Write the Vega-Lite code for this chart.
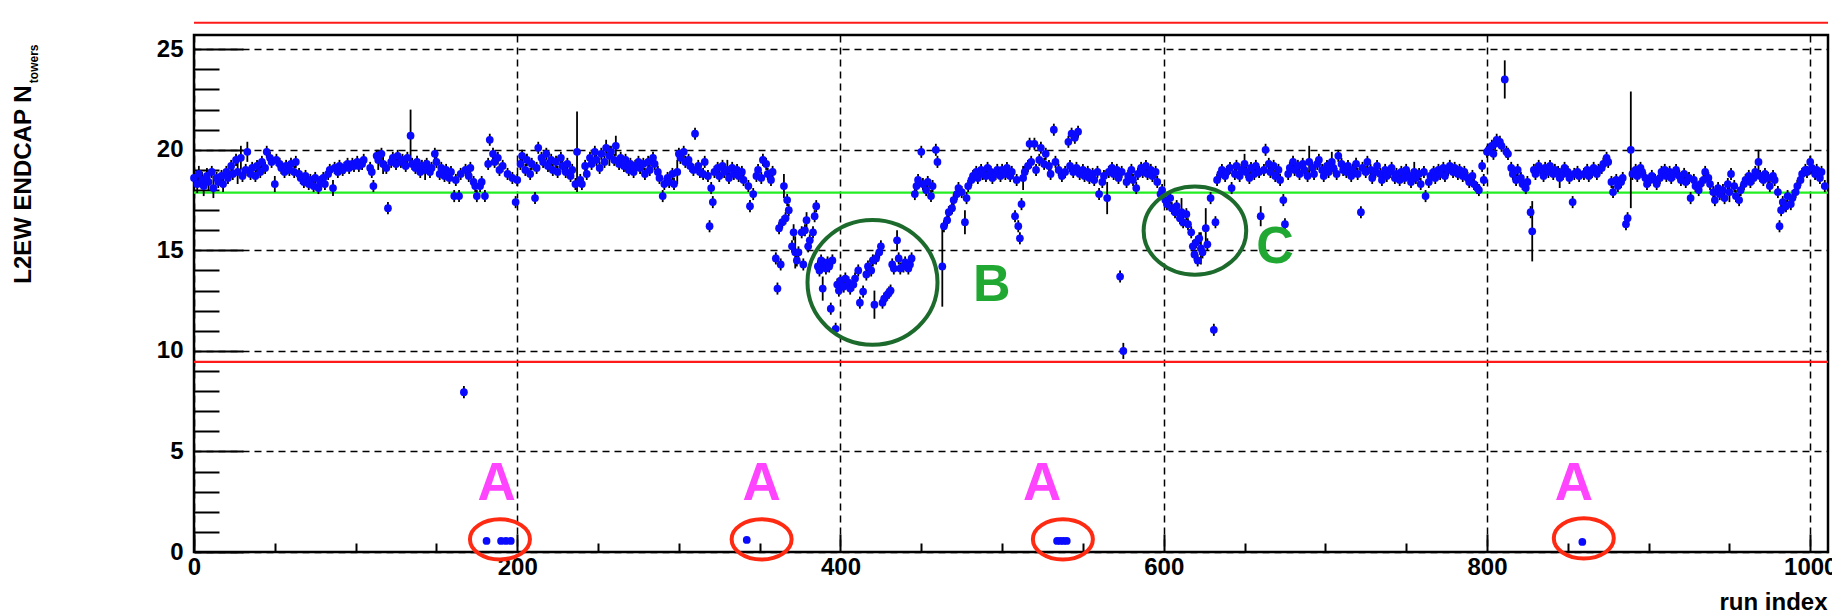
{
  "$schema": "https://vega.github.io/schema/vega-lite/v6.json",
  "width": 1634,
  "height": 517,
  "autosize": {"type": "none"},
  "padding": {"left": 194, "top": 35, "right": 4, "bottom": 61},
  "background": "white",
  "config": {
    "view": {"stroke": "black", "strokeWidth": 2.5},
    "axis": {"labelFont": "Liberation Sans", "labelFontWeight": "bold", "titleFont": "Liberation Sans", "titleFontWeight": "bold", "domain": false, "labelColor": "black", "titleColor": "black", "tickColor": "black", "gridColor": "black"},
    "text": {"font": "Liberation Sans"}
  },
  "datasets": {
    "runs": [
      {"r":0,"v":18.6,"e":0.45},{"r":2,"v":18.3,"e":0.45},{"r":3,"v":18.8,"e":0.4},{"r":5,"v":18.5,"e":0.4},{"r":6,"v":18.2,"e":0.5},{"r":8,"v":18.7,"e":0.4},{"r":9,"v":18.4,"e":0.4},{"r":11,"v":18.9,"e":0.3},{"r":12,"v":18.1,"e":0.5},{"r":14,"v":18.6,"e":0.3},{"r":15,"v":18.4,"e":0.3},{"r":17,"v":18.7,"e":0.3},{"r":18,"v":18.3,"e":0.4},{"r":20,"v":18.9,"e":0.3},{"r":21,"v":18.6,"e":0.3},{"r":23,"v":19.2,"e":0.3},{"r":24,"v":18.8,"e":0.3},{"r":26,"v":19.5,"e":0.3},{"r":27,"v":18.9,"e":0.6},{"r":29,"v":19.6,"e":0.6},{"r":30,"v":18.7,"e":0.3},{"r":32,"v":19.0,"e":0.3},{"r":33,"v":19.9,"e":0.5},{"r":35,"v":18.8,"e":0.3},{"r":36,"v":19.1,"e":0.3},{"r":38,"v":18.7,"e":0.3},{"r":39,"v":19.2,"e":0.3},{"r":41,"v":18.9,"e":0.3},{"r":42,"v":19.4,"e":0.3},{"r":44,"v":19.1,"e":0.3},{"r":45,"v":19.9,"e":0.3},{"r":47,"v":19.6,"e":0.3},{"r":48,"v":19.4,"e":0.3},{"r":50,"v":18.3,"e":0.4},{"r":51,"v":19.5,"e":0.3},{"r":53,"v":19.3,"e":0.3},{"r":54,"v":19.1,"e":0.3},{"r":56,"v":18.9,"e":0.3},{"r":57,"v":19.2,"e":0.3},{"r":59,"v":19.0,"e":0.3},{"r":60,"v":19.3,"e":0.3},{"r":62,"v":18.9,"e":0.3},{"r":63,"v":19.4,"e":0.3},{"r":65,"v":18.8,"e":0.3},{"r":66,"v":18.6,"e":0.3},{"r":68,"v":18.4,"e":0.3},{"r":69,"v":18.7,"e":0.3},{"r":71,"v":18.3,"e":0.3},{"r":72,"v":18.5,"e":0.3},{"r":74,"v":18.2,"e":0.3},{"r":75,"v":18.6,"e":0.3},{"r":77,"v":18.1,"e":0.3},{"r":78,"v":18.4,"e":0.3},{"r":80,"v":18.6,"e":0.3},{"r":81,"v":18.3,"e":0.3},{"r":83,"v":18.8,"e":0.3},{"r":84,"v":19.0,"e":0.3},{"r":86,"v":18.1,"e":0.4},{"r":87,"v":19.1,"e":0.3},{"r":89,"v":18.9,"e":0.3},{"r":90,"v":19.2,"e":0.3},{"r":92,"v":19.0,"e":0.3},{"r":93,"v":19.1,"e":0.3},{"r":95,"v":19.3,"e":0.3},{"r":96,"v":19.1,"e":0.3},{"r":98,"v":19.3,"e":0.3},{"r":99,"v":19.2,"e":0.3},{"r":101,"v":19.4,"e":0.3},{"r":102,"v":19.2,"e":0.3},{"r":104,"v":19.3,"e":0.3},{"r":105,"v":19.5,"e":0.3},{"r":109,"v":19.1,"e":0.3},{"r":110,"v":18.9,"e":0.3},{"r":111,"v":18.2,"e":0.3},{"r":113,"v":19.7,"e":0.3},{"r":114,"v":19.5,"e":0.5},{"r":116,"v":19.8,"e":0.3},{"r":117,"v":19.3,"e":0.5},{"r":119,"v":19.1,"e":0.3},{"r":120,"v":17.1,"e":0.3},{"r":122,"v":19.4,"e":0.3},{"r":123,"v":19.6,"e":0.3},{"r":125,"v":19.3,"e":0.3},{"r":126,"v":19.7,"e":0.3},{"r":128,"v":19.4,"e":0.3},{"r":129,"v":19.5,"e":0.3},{"r":131,"v":19.2,"e":0.3},{"r":132,"v":19.6,"e":0.3},{"r":134,"v":20.7,"e":1.3},{"r":135,"v":19.3,"e":0.3},{"r":137,"v":19.1,"e":0.3},{"r":138,"v":19.4,"e":0.3},{"r":140,"v":18.9,"e":0.3},{"r":141,"v":19.2,"e":0.3},{"r":143,"v":19.0,"e":0.5},{"r":144,"v":19.3,"e":0.3},{"r":146,"v":18.9,"e":0.3},{"r":147,"v":19.1,"e":0.3},{"r":149,"v":19.8,"e":0.3},{"r":150,"v":19.4,"e":0.3},{"r":152,"v":18.8,"e":0.3},{"r":153,"v":19.1,"e":0.3},{"r":155,"v":18.7,"e":0.3},{"r":156,"v":19.0,"e":0.3},{"r":158,"v":18.6,"e":0.3},{"r":159,"v":18.9,"e":0.3},{"r":161,"v":17.7,"e":0.3},{"r":162,"v":18.5,"e":0.3},{"r":164,"v":17.7,"e":0.3},{"r":165,"v":18.8,"e":0.3},{"r":167,"v":7.95,"e":0.3},{"r":168,"v":19.0,"e":0.3},{"r":170,"v":18.7,"e":0.3},{"r":171,"v":19.1,"e":0.3},{"r":173,"v":18.4,"e":0.3},{"r":174,"v":18.2,"e":0.3},{"r":175,"v":17.7,"e":0.3},{"r":177,"v":18.2,"e":0.3},{"r":178,"v":18.4,"e":0.3},{"r":180,"v":17.7,"e":0.3},{"r":181,"v":0.55,"e":0.1},{"r":182,"v":19.3,"e":0.3},{"r":183,"v":20.5,"e":0.3},{"r":185,"v":19.8,"e":0.3},{"r":186,"v":19.4,"e":0.3},{"r":188,"v":19.6,"e":0.3},{"r":189,"v":19.0,"e":0.3},{"r":190,"v":0.55,"e":0.1},{"r":191,"v":19.2,"e":0.3},{"r":193,"v":0.55,"e":0.1},{"r":194,"v":18.8,"e":0.3},{"r":196,"v":0.55,"e":0.1},{"r":197,"v":18.6,"e":0.3},{"r":199,"v":17.4,"e":0.3},{"r":200,"v":18.5,"e":0.3},{"r":202,"v":19.3,"e":0.3},{"r":203,"v":19.7,"e":0.3},{"r":205,"v":19.0,"e":0.3},{"r":206,"v":19.5,"e":0.3},{"r":208,"v":18.8,"e":0.3},{"r":209,"v":19.3,"e":0.3},{"r":211,"v":17.6,"e":0.3},{"r":212,"v":19.1,"e":0.3},{"r":213,"v":20.1,"e":0.3},{"r":215,"v":19.6,"e":0.3},{"r":216,"v":19.4,"e":0.3},{"r":218,"v":19.8,"e":0.3},{"r":219,"v":19.2,"e":0.3},{"r":221,"v":19.5,"e":0.3},{"r":222,"v":19.0,"e":0.3},{"r":224,"v":19.4,"e":0.3},{"r":225,"v":18.9,"e":0.3},{"r":227,"v":19.6,"e":0.3},{"r":228,"v":19.2,"e":0.3},{"r":230,"v":18.9,"e":0.3},{"r":231,"v":19.3,"e":0.3},{"r":233,"v":18.7,"e":0.3},{"r":234,"v":19.0,"e":0.3},{"r":236,"v":18.3,"e":0.3},{"r":237,"v":19.9,"e":2.0},{"r":239,"v":18.5,"e":0.3},{"r":240,"v":18.3,"e":0.3},{"r":242,"v":19.2,"e":0.3},{"r":243,"v":18.8,"e":0.3},{"r":245,"v":19.6,"e":0.3},{"r":246,"v":19.3,"e":0.3},{"r":248,"v":19.9,"e":0.3},{"r":249,"v":19.5,"e":0.3},{"r":251,"v":19.1,"e":0.3},
      {"r":252,"v":19.8,"e":0.3},{"r":254,"v":19.4,"e":0.3},{"r":255,"v":20.1,"e":0.4},{"r":257,"v":19.7,"e":0.5},{"r":258,"v":19.9,"e":0.3},{"r":260,"v":19.5,"e":0.3},{"r":261,"v":20.2,"e":0.5},{"r":263,"v":19.3,"e":0.3},{"r":264,"v":19.6,"e":0.3},{"r":266,"v":19.2,"e":0.3},{"r":267,"v":19.5,"e":0.3},{"r":269,"v":19.0,"e":0.3},{"r":270,"v":19.3,"e":0.3},{"r":272,"v":18.9,"e":0.3},{"r":273,"v":19.2,"e":0.3},{"r":275,"v":19.4,"e":0.3},{"r":276,"v":19.1,"e":0.3},{"r":278,"v":19.3,"e":0.3},{"r":279,"v":18.8,"e":0.3},{"r":281,"v":19.4,"e":0.3},{"r":282,"v":19.0,"e":0.3},{"r":284,"v":19.6,"e":0.3},{"r":285,"v":19.3,"e":0.3},{"r":287,"v":18.9,"e":0.3},{"r":288,"v":18.6,"e":0.3},{"r":290,"v":17.7,"e":0.3},{"r":291,"v":18.3,"e":0.3},{"r":293,"v":18.6,"e":0.3},{"r":294,"v":18.4,"e":0.3},{"r":296,"v":18.8,"e":0.3},{"r":297,"v":18.3,"e":0.3},{"r":299,"v":18.9,"e":0.6},{"r":300,"v":19.8,"e":0.3},{"r":301,"v":19.6,"e":0.3},{"r":303,"v":19.9,"e":0.3},{"r":304,"v":19.4,"e":0.3},{"r":306,"v":19.5,"e":0.3},{"r":307,"v":19.2,"e":0.3},{"r":309,"v":19.0,"e":0.3},{"r":310,"v":20.8,"e":0.3},{"r":312,"v":19.2,"e":0.3},{"r":313,"v":18.9,"e":0.3},{"r":315,"v":18.8,"e":0.3},{"r":316,"v":19.4,"e":0.3},{"r":318,"v":18.7,"e":0.3},{"r":319,"v":16.2,"e":0.3},{"r":320,"v":18.1,"e":0.3},{"r":321,"v":17.4,"e":0.3},{"r":322,"v":18.9,"e":0.3},{"r":324,"v":19.1,"e":0.3},{"r":325,"v":18.7,"e":0.3},{"r":327,"v":19.2,"e":0.3},{"r":328,"v":18.9,"e":0.3},{"r":330,"v":19.0,"e":0.5},{"r":331,"v":18.6,"e":0.3},{"r":333,"v":19.1,"e":0.3},{"r":334,"v":18.8,"e":0.3},{"r":336,"v":19.0,"e":0.3},{"r":337,"v":18.7,"e":0.3},{"r":339,"v":18.9,"e":0.3},{"r":340,"v":18.5,"e":0.3},{"r":342,"v":0.6,"e":0.1},{"r":343,"v":18.2,"e":0.3},{"r":344,"v":17.2,"e":0.3},{"r":346,"v":17.8,"e":0.3},{"r":348,"v":18.7,"e":0.3},{"r":349,"v":19.0,"e":0.3},{"r":351,"v":18.6,"e":0.3},{"r":352,"v":19.5,"e":0.3},{"r":354,"v":19.3,"e":0.3},{"r":355,"v":18.8,"e":0.3},{"r":357,"v":18.5,"e":0.3},{"r":358,"v":18.9,"e":0.3},{"r":360,"v":14.6,"e":0.3},{"r":361,"v":13.1,"e":0.3},{"r":362,"v":16.1,"e":0.3},{"r":363,"v":14.3,"e":0.3},{"r":364,"v":16.4,"e":0.3},{"r":365,"v":18.2,"e":0.6},{"r":366,"v":16.6,"e":0.3},{"r":367,"v":17.5,"e":0.3},{"r":368,"v":17.0,"e":0.3},{"r":370,"v":15.2,"e":0.3},{"r":371,"v":15.9,"e":0.4},{"r":372,"v":14.9,"e":0.8},{"r":373,"v":14.5,"e":0.3},{"r":374,"v":14.9,"e":0.3},{"r":376,"v":15.9,"e":0.3},{"r":377,"v":14.3,"e":0.3},{"r":378,"v":16.0,"e":0.3},{"r":379,"v":16.5,"e":0.4},{"r":380,"v":15.2,"e":0.3},{"r":381,"v":15.5,"e":0.3},{"r":383,"v":15.9,"e":0.3},{"r":384,"v":16.7,"e":0.3},{"r":385,"v":17.2,"e":0.3},{"r":386,"v":14.2,"e":0.3},{"r":387,"v":14.0,"e":0.3},{"r":388,"v":14.5,"e":0.3},{"r":389,"v":13.1,"e":0.6},{"r":390,"v":14.3,"e":0.3},{"r":391,"v":14.1,"e":0.3},{"r":392,"v":14.4,"e":0.3},{"r":393,"v":14.2,"e":0.3},{"r":394,"v":12.1,"e":0.3},{"r":395,"v":14.5,"e":0.3},{"r":397,"v":11.1,"e":0.3},{"r":398,"v":13.3,"e":0.3},{"r":399,"v":13.0,"e":0.3},{"r":400,"v":13.5,"e":0.3},{"r":402,"v":13.2,"e":0.3},{"r":403,"v":13.6,"e":0.3},{"r":405,"v":13.4,"e":0.3},{"r":406,"v":13.1,"e":0.3},{"r":408,"v":13.3,"e":0.3},{"r":409,"v":13.6,"e":0.3},{"r":411,"v":14.0,"e":0.3},{"r":412,"v":12.4,"e":0.3},{"r":414,"v":12.95,"e":0.3},{"r":416,"v":13.8,"e":0.3},{"r":417,"v":14.2,"e":0.3},{"r":419,"v":14.0,"e":0.3},{"r":420,"v":14.5,"e":0.3},{"r":421,"v":12.3,"e":0.7},{"r":422,"v":14.6,"e":0.3},{"r":424,"v":14.9,"e":0.3},{"r":425,"v":15.2,"e":0.3},{"r":426,"v":12.4,"e":0.3},{"r":427,"v":12.6,"e":0.3},{"r":429,"v":12.8,"e":0.3},{"r":430,"v":12.9,"e":0.3},{"r":431,"v":13.0,"e":0.3},{"r":432,"v":14.3,"e":0.3},{"r":433,"v":14.1,"e":0.3},{"r":435,"v":15.5,"e":0.5},{"r":436,"v":14.6,"e":0.3},{"r":437,"v":14.1,"e":0.3},{"r":439,"v":14.2,"e":0.3},{"r":440,"v":14.4,"e":0.3},{"r":442,"v":14.1,"e":0.3},{"r":443,"v":14.3,"e":0.3},{"r":444,"v":14.6,"e":0.3},{"r":446,"v":17.8,"e":0.3},{"r":447,"v":18.2,"e":0.3},{"r":448,"v":18.5,"e":0.3},{"r":450,"v":19.9,"e":0.3},{"r":451,"v":18.3,"e":0.3},{"r":453,"v":18.0,"e":0.3},{"r":454,"v":18.4,"e":0.3},{"r":456,"v":17.7,"e":0.3},{"r":457,"v":18.2,"e":0.3},{"r":459,"v":20.0,"e":0.3},{"r":460,"v":19.4,"e":0.3},{"r":463,"v":14.2,"e":2.0},{"r":464,"v":16.2,"e":0.3},{"r":466,"v":16.5,"e":0.3},{"r":467,"v":16.9,"e":0.3},{"r":469,"v":17.1,"e":0.3},{"r":470,"v":17.5,"e":0.3},{"r":472,"v":17.8,"e":0.3},{"r":473,"v":18.1,"e":0.3},{"r":475,"v":17.9,"e":0.3},{"r":477,"v":16.4,"e":0.6},{"r":478,"v":17.6,"e":0.3},{"r":479,"v":18.2,"e":0.3},{"r":481,"v":18.5,"e":0.3},{"r":482,"v":18.7,"e":0.3},{"r":484,"v":18.9,"e":0.3},{"r":485,"v":18.6,"e":0.3},{"r":487,"v":19.0,"e":0.3},{"r":488,"v":18.8,"e":0.3},{"r":490,"v":18.7,"e":0.3},{"r":491,"v":19.1,"e":0.3},{"r":493,"v":18.9,"e":0.3},{"r":494,"v":18.6,"e":0.3},{"r":496,"v":18.8,"e":0.3},{"r":497,"v":19.0,"e":0.3},{"r":499,"v":18.7,"e":0.3},
      {"r":500,"v":19.0,"e":0.3},{"r":502,"v":18.8,"e":0.3},{"r":503,"v":19.1,"e":0.3},{"r":505,"v":18.7,"e":0.3},{"r":506,"v":18.9,"e":0.3},{"r":508,"v":16.7,"e":0.3},{"r":509,"v":18.5,"e":0.3},{"r":510,"v":16.2,"e":0.3},{"r":511,"v":15.6,"e":0.3},{"r":512,"v":17.3,"e":0.3},{"r":513,"v":18.6,"e":0.6},{"r":514,"v":18.9,"e":0.3},{"r":516,"v":19.2,"e":0.3},{"r":517,"v":20.3,"e":0.3},{"r":518,"v":19.4,"e":0.3},{"r":520,"v":20.3,"e":0.3},{"r":521,"v":19.0,"e":0.3},{"r":523,"v":19.5,"e":0.3},{"r":524,"v":20.1,"e":0.3},{"r":526,"v":19.3,"e":0.3},{"r":527,"v":19.8,"e":0.3},{"r":529,"v":19.2,"e":0.3},{"r":530,"v":18.8,"e":0.3},{"r":532,"v":21.0,"e":0.3},{"r":533,"v":19.4,"e":0.3},{"r":534,"v":0.55,"e":0.1},{"r":535,"v":19.0,"e":0.3},{"r":536,"v":0.55,"e":0.1},{"r":537,"v":18.7,"e":0.3},{"r":538,"v":0.55,"e":0.1},{"r":539,"v":18.9,"e":0.3},{"r":540,"v":0.55,"e":0.1},{"r":541,"v":20.4,"e":0.3},{"r":542,"v":19.2,"e":0.3},{"r":543,"v":20.8,"e":0.3},{"r":544,"v":18.9,"e":0.3},{"r":545,"v":20.6,"e":0.3},{"r":546,"v":19.1,"e":0.3},{"r":547,"v":20.9,"e":0.3},{"r":548,"v":18.8,"e":0.3},{"r":550,"v":19.0,"e":0.3},{"r":551,"v":18.7,"e":0.3},{"r":553,"v":18.9,"e":0.3},{"r":554,"v":18.6,"e":0.3},{"r":556,"v":18.8,"e":0.3},{"r":557,"v":18.5,"e":0.3},{"r":559,"v":18.9,"e":0.3},{"r":560,"v":17.8,"e":0.3},{"r":562,"v":18.4,"e":0.3},{"r":563,"v":18.7,"e":0.3},{"r":565,"v":17.6,"e":0.8},{"r":566,"v":18.9,"e":0.3},{"r":568,"v":19.1,"e":0.3},{"r":569,"v":18.8,"e":0.3},{"r":571,"v":19.0,"e":0.3},{"r":572,"v":18.6,"e":0.3},{"r":573,"v":13.7,"e":0.3},{"r":574,"v":18.9,"e":0.3},{"r":575,"v":10.0,"e":0.4},{"r":577,"v":18.4,"e":0.3},{"r":578,"v":18.7,"e":0.3},{"r":580,"v":19.0,"e":0.3},{"r":581,"v":18.5,"e":0.3},{"r":583,"v":18.1,"e":0.3},{"r":584,"v":18.8,"e":0.3},{"r":586,"v":19.1,"e":0.3},{"r":587,"v":18.9,"e":0.3},{"r":589,"v":19.2,"e":0.3},{"r":590,"v":18.8,"e":0.3},{"r":592,"v":19.0,"e":0.3},{"r":593,"v":18.7,"e":0.3},{"r":595,"v":18.9,"e":0.3},{"r":596,"v":18.4,"e":0.3},{"r":598,"v":17.8,"e":0.3},{"r":599,"v":18.0,"e":0.3},{"r":601,"v":17.5,"e":0.3},{"r":602,"v":17.3,"e":0.3},{"r":604,"v":17.6,"e":0.3},{"r":605,"v":17.1,"e":0.3},{"r":607,"v":16.9,"e":0.3},{"r":608,"v":17.2,"e":0.3},{"r":610,"v":16.6,"e":0.3},{"r":611,"v":16.9,"e":0.7},{"r":612,"v":16.4,"e":0.3},{"r":614,"v":16.8,"e":0.3},{"r":615,"v":16.3,"e":0.3},{"r":617,"v":15.9,"e":0.3},{"r":618,"v":15.2,"e":0.3},{"r":619,"v":14.8,"e":0.3},{"r":620,"v":15.4,"e":0.3},{"r":621,"v":14.5,"e":0.3},{"r":622,"v":15.6,"e":0.3},{"r":623,"v":15.1,"e":0.8},{"r":624,"v":14.9,"e":0.3},{"r":626,"v":16.1,"e":1.0},{"r":627,"v":15.3,"e":0.3},{"r":629,"v":17.6,"e":0.3},{"r":631,"v":11.05,"e":0.3},{"r":632,"v":16.4,"e":0.3},{"r":633,"v":18.5,"e":0.3},{"r":635,"v":18.8,"e":0.3},{"r":636,"v":19.0,"e":0.3},{"r":638,"v":18.7,"e":0.3},{"r":639,"v":18.9,"e":0.3},{"r":641,"v":19.1,"e":0.3},{"r":642,"v":18.1,"e":0.3},{"r":644,"v":18.8,"e":0.3},{"r":645,"v":19.2,"e":0.3},{"r":647,"v":18.7,"e":0.3},{"r":648,"v":19.0,"e":0.3},{"r":650,"v":19.3,"e":0.5},{"r":651,"v":18.9,"e":0.3},{"r":653,"v":18.6,"e":0.3},{"r":654,"v":19.1,"e":0.3},{"r":656,"v":18.8,"e":0.3},{"r":657,"v":19.2,"e":0.3},{"r":659,"v":18.9,"e":0.3},{"r":660,"v":16.7,"e":0.5},{"r":662,"v":19.0,"e":0.3},{"r":663,"v":20.0,"e":0.3},{"r":665,"v":19.3,"e":0.3},{"r":666,"v":18.9,"e":0.3},{"r":668,"v":19.2,"e":0.3},{"r":669,"v":18.7,"e":0.3},{"r":671,"v":19.0,"e":0.3},{"r":672,"v":18.5,"e":0.3},{"r":674,"v":17.5,"e":0.3},{"r":675,"v":16.3,"e":0.3},{"r":677,"v":18.8,"e":0.3},{"r":678,"v":19.1,"e":0.3},{"r":680,"v":19.4,"e":0.3},{"r":681,"v":19.0,"e":0.3},{"r":683,"v":19.2,"e":0.3},{"r":684,"v":18.8,"e":0.3},{"r":686,"v":19.3,"e":0.3},{"r":687,"v":19.0,"e":0.3},{"r":689,"v":18.7,"e":0.3},{"r":690,"v":19.4,"e":0.8},{"r":692,"v":19.1,"e":0.3},{"r":693,"v":18.8,"e":0.3},{"r":695,"v":19.3,"e":0.3},{"r":696,"v":19.5,"e":0.3},{"r":698,"v":19.0,"e":0.3},{"r":699,"v":18.7,"e":0.3},{"r":701,"v":19.2,"e":0.3},{"r":702,"v":18.9,"e":0.3},{"r":704,"v":19.4,"e":0.5},{"r":705,"v":19.1,"e":0.3},{"r":707,"v":18.8,"e":0.3},{"r":708,"v":19.7,"e":0.3},{"r":710,"v":19.3,"e":0.3},{"r":711,"v":19.0,"e":0.3},{"r":713,"v":18.9,"e":0.3},{"r":714,"v":19.2,"e":0.3},{"r":716,"v":18.7,"e":0.3},{"r":717,"v":19.0,"e":0.3},{"r":719,"v":19.3,"e":0.3},{"r":720,"v":18.8,"e":0.3},{"r":722,"v":16.9,"e":0.3},{"r":723,"v":19.1,"e":0.3},{"r":725,"v":18.9,"e":0.3},{"r":726,"v":19.4,"e":0.3},{"r":728,"v":19.0,"e":0.3},{"r":729,"v":18.6,"e":0.3},{"r":731,"v":18.9,"e":0.3},{"r":732,"v":19.2,"e":0.3},{"r":734,"v":18.8,"e":0.3},{"r":735,"v":18.5,"e":0.3},{"r":737,"v":19.0,"e":0.3},{"r":738,"v":18.7,"e":0.3},{"r":740,"v":18.9,"e":0.3},{"r":741,"v":19.1,"e":0.3},{"r":743,"v":18.6,"e":0.3},{"r":744,"v":18.8,"e":0.3},{"r":746,"v":18.5,"e":0.3},{"r":747,"v":18.9,"e":0.3},{"r":749,"v":18.6,"e":0.3},{"r":750,"v":19.0,"e":0.3},{"r":752,"v":18.7,"e":0.3},{"r":753,"v":18.4,"e":0.3},{"r":755,"v":18.9,"e":0.5},{"r":756,"v":18.6,"e":0.3},{"r":758,"v":18.8,"e":0.3},
      {"r":759,"v":18.3,"e":0.3},{"r":761,"v":18.9,"e":0.3},{"r":762,"v":17.7,"e":0.3},{"r":764,"v":18.4,"e":0.3},{"r":765,"v":18.7,"e":0.3},{"r":767,"v":18.9,"e":0.3},{"r":768,"v":18.6,"e":0.3},{"r":770,"v":19.0,"e":0.3},{"r":771,"v":18.8,"e":0.3},{"r":773,"v":19.1,"e":0.3},{"r":774,"v":18.7,"e":0.3},{"r":776,"v":19.0,"e":0.3},{"r":777,"v":19.2,"e":0.3},{"r":779,"v":18.9,"e":0.3},{"r":780,"v":19.1,"e":0.3},{"r":782,"v":18.8,"e":0.3},{"r":783,"v":19.0,"e":0.3},{"r":785,"v":18.7,"e":0.3},{"r":786,"v":18.9,"e":0.3},{"r":788,"v":18.6,"e":0.3},{"r":789,"v":18.4,"e":0.3},{"r":791,"v":18.7,"e":0.3},{"r":792,"v":18.3,"e":0.3},{"r":794,"v":18.1,"e":0.3},{"r":795,"v":18.0,"e":0.3},{"r":797,"v":19.2,"e":0.3},{"r":798,"v":18.5,"e":0.3},{"r":800,"v":19.9,"e":0.3},{"r":801,"v":20.0,"e":0.3},{"r":803,"v":20.2,"e":0.3},{"r":804,"v":19.8,"e":0.3},{"r":805,"v":20.3,"e":0.3},{"r":806,"v":20.5,"e":0.3},{"r":808,"v":20.4,"e":0.3},{"r":809,"v":20.2,"e":0.3},{"r":811,"v":23.5,"e":0.95},{"r":812,"v":19.9,"e":0.3},{"r":813,"v":19.8,"e":0.3},{"r":815,"v":19.1,"e":0.3},{"r":816,"v":18.8,"e":0.3},{"r":818,"v":18.5,"e":0.3},{"r":819,"v":19.0,"e":0.3},{"r":821,"v":18.6,"e":0.3},{"r":822,"v":18.3,"e":0.3},{"r":824,"v":18.1,"e":0.3},{"r":825,"v":18.4,"e":0.3},{"r":827,"v":16.9,"e":0.3},{"r":828,"v":15.95,"e":1.5},{"r":829,"v":19.0,"e":0.3},{"r":830,"v":18.8,"e":0.3},{"r":832,"v":19.2,"e":0.3},{"r":833,"v":19.0,"e":0.3},{"r":835,"v":18.7,"e":0.3},{"r":836,"v":19.1,"e":0.3},{"r":838,"v":18.9,"e":0.3},{"r":839,"v":19.2,"e":0.3},{"r":841,"v":18.8,"e":0.3},{"r":842,"v":19.0,"e":0.3},{"r":844,"v":18.9,"e":0.3},{"r":845,"v":18.6,"e":0.5},{"r":847,"v":18.8,"e":0.3},{"r":848,"v":19.1,"e":0.3},{"r":850,"v":18.9,"e":0.3},{"r":851,"v":18.6,"e":0.3},{"r":853,"v":17.4,"e":0.3},{"r":854,"v":18.8,"e":0.3},{"r":856,"v":18.9,"e":0.3},{"r":857,"v":18.7,"e":0.3},{"r":859,"v":0.5,"e":0.1},{"r":860,"v":18.8,"e":0.3},{"r":862,"v":19.0,"e":0.3},{"r":863,"v":18.7,"e":0.3},{"r":865,"v":18.9,"e":0.3},{"r":866,"v":19.1,"e":0.3},{"r":868,"v":18.8,"e":0.3},{"r":869,"v":19.0,"e":0.3},{"r":871,"v":19.1,"e":0.3},{"r":872,"v":19.3,"e":0.3},{"r":874,"v":19.6,"e":0.3},{"r":875,"v":19.4,"e":0.3},{"r":877,"v":18.4,"e":0.3},{"r":878,"v":17.9,"e":0.3},{"r":880,"v":18.5,"e":0.3},{"r":881,"v":18.2,"e":0.3},{"r":883,"v":18.4,"e":0.3},{"r":884,"v":18.6,"e":0.3},{"r":886,"v":16.3,"e":0.3},{"r":887,"v":16.6,"e":0.3},{"r":889,"v":20.0,"e":2.9},{"r":890,"v":18.8,"e":0.3},{"r":892,"v":19.0,"e":0.3},{"r":893,"v":18.7,"e":0.3},{"r":895,"v":19.1,"e":0.3},{"r":896,"v":18.9,"e":0.3},{"r":898,"v":18.6,"e":0.3},{"r":899,"v":18.3,"e":0.3},{"r":901,"v":18.5,"e":0.3},{"r":902,"v":18.7,"e":0.3},{"r":904,"v":18.5,"e":0.3},{"r":905,"v":18.3,"e":0.3},{"r":907,"v":18.6,"e":0.3},{"r":908,"v":18.9,"e":0.3},{"r":910,"v":19.0,"e":0.3},{"r":911,"v":18.7,"e":0.3},{"r":913,"v":18.9,"e":0.3},{"r":914,"v":18.6,"e":0.3},{"r":916,"v":18.8,"e":0.3},{"r":917,"v":19.0,"e":0.3},{"r":919,"v":18.7,"e":0.3},{"r":920,"v":18.5,"e":0.3},{"r":922,"v":18.8,"e":0.3},{"r":923,"v":18.4,"e":0.3},{"r":925,"v":18.6,"e":0.3},{"r":926,"v":17.6,"e":0.3},{"r":928,"v":18.5,"e":0.3},{"r":929,"v":18.2,"e":0.3},{"r":931,"v":18.0,"e":0.3},{"r":932,"v":18.3,"e":0.3},{"r":934,"v":18.5,"e":0.3},{"r":935,"v":18.9,"e":0.3},{"r":937,"v":18.6,"e":0.3},{"r":938,"v":18.3,"e":0.3},{"r":940,"v":17.9,"e":0.3},{"r":941,"v":17.5,"e":0.3},{"r":943,"v":18.1,"e":0.3},{"r":944,"v":17.8,"e":0.3},{"r":946,"v":18.0,"e":0.3},{"r":947,"v":17.6,"e":0.3},{"r":949,"v":18.3,"e":0.3},{"r":950,"v":17.9,"e":0.5},{"r":951,"v":18.8,"e":0.3},{"r":953,"v":18.2,"e":0.3},{"r":954,"v":17.7,"e":0.3},{"r":956,"v":17.5,"e":0.3},{"r":957,"v":18.0,"e":0.3},{"r":959,"v":18.3,"e":0.3},{"r":960,"v":18.5,"e":0.3},{"r":962,"v":18.7,"e":0.3},{"r":963,"v":18.4,"e":0.3},{"r":965,"v":18.6,"e":0.3},{"r":966,"v":18.9,"e":0.3},{"r":968,"v":19.4,"e":0.6},{"r":969,"v":18.7,"e":0.3},{"r":971,"v":18.5,"e":0.3},{"r":972,"v":18.8,"e":0.3},{"r":974,"v":18.6,"e":0.3},{"r":975,"v":18.2,"e":0.3},{"r":977,"v":18.7,"e":0.3},{"r":978,"v":18.5,"e":0.3},{"r":980,"v":17.9,"e":0.3},{"r":981,"v":16.2,"e":0.3},{"r":982,"v":17.0,"e":0.3},{"r":983,"v":17.4,"e":0.3},{"r":985,"v":17.2,"e":0.3},{"r":986,"v":17.7,"e":0.3},{"r":988,"v":17.3,"e":0.3},{"r":989,"v":17.6,"e":0.4},{"r":991,"v":17.9,"e":0.3},{"r":992,"v":18.2,"e":0.3},{"r":994,"v":18.5,"e":0.3},{"r":995,"v":18.8,"e":0.3},{"r":997,"v":19.0,"e":0.3},{"r":998,"v":18.9,"e":0.3},{"r":1000,"v":19.4,"e":0.3},{"r":1001,"v":19.1,"e":0.3},{"r":1003,"v":18.8,"e":0.3},{"r":1004,"v":19.0,"e":0.3},{"r":1006,"v":18.6,"e":0.3},{"r":1007,"v":18.9,"e":0.3},{"r":1009,"v":18.2,"e":0.3}
    ],
    "refs": [{"y": 26.32, "k": "limit"}, {"y": 9.45, "k": "limit"}, {"y": 17.87, "k": "mean"}],
    "aCircles": [{"x": 189.3, "y": 0.63}, {"x": 351.2, "y": 0.63}, {"x": 537.6, "y": 0.63}, {"x": 859.9, "y": 0.68}],
    "aLabels": [{"x": 187.2, "y": 2.6, "t": "A"}, {"x": 351.2, "y": 2.6, "t": "A"}, {"x": 524.7, "y": 2.6, "t": "A"}, {"x": 853.8, "y": 2.6, "t": "A"}],
    "bCircle": [{"x": 419.8, "y": 13.41}],
    "cCircle": [{"x": 619.3, "y": 15.98}],
    "bcLabels": [{"x": 482, "y": 12.46, "t": "B"}, {"x": 657.3, "y": 14.38, "t": "C"}]
  },
  "resolve": {"axis": {"x": "independent", "y": "independent"}},
  "layer": [
    {
      "data": {"name": "refs"},
      "mark": {"type": "rule", "strokeWidth": 2.2, "clip": false},
      "encoding": {
        "y": {"field": "y", "type": "quantitative", "scale": {"domain": [0, 25.71], "nice": false, "zero": false}, "axis": null},
        "color": {"field": "k", "type": "nominal", "scale": {"domain": ["limit", "mean"], "range": ["#ff1a1a", "#22ee22"]}, "legend": null}
      }
    },
    {
      "data": {"name": "runs"},
      "mark": {"type": "errorbar", "ticks": false, "color": "black", "thickness": 1.8},
      "encoding": {
        "x": {"field": "r", "type": "quantitative", "scale": {"domain": [0, 1011], "nice": false, "zero": false}, "axis": null},
        "y": {"field": "v", "type": "quantitative", "scale": {"domain": [0, 25.71], "nice": false, "zero": false}, "axis": null, "title": null},
        "yError": {"field": "e"}
      }
    },
    {
      "data": {"name": "runs"},
      "mark": {"type": "point", "filled": true, "opacity": 1, "size": 60, "color": "#0a0aff", "shape": "circle"},
      "encoding": {
        "x": {"field": "r", "type": "quantitative", "scale": {"domain": [0, 1011], "nice": false, "zero": false},
          "axis": {"orient": "bottom", "values": [0, 200, 400, 600, 800, 1000], "format": "d", "tickSize": -18, "tickWidth": 2, "labelFontSize": 24, "labelPadding": 21, "labelBaseline": "top", "labelAlign": "center", "labelFlush": false, "labelOverlap": false, "grid": true, "gridDash": [7, 5], "gridWidth": 1.5, "title": "run index", "titleFontSize": 24, "titleAnchor": "end", "titleAlign": "right", "titleBaseline": "alphabetic", "titleX": 1633, "titleY": 57}},
        "y": {"field": "v", "type": "quantitative", "scale": {"domain": [0, 25.71], "nice": false, "zero": false},
          "axis": {"orient": "left", "values": [0, 5, 10, 15, 20, 25], "format": "d", "tickSize": -49, "tickWidth": 2, "labelFontSize": 24, "labelPadding": 60, "labelAlign": "right", "labelBaseline": "middle", "labelFlush": false, "labelOverlap": false, "grid": true, "gridDash": [7, 5], "gridWidth": 1.5, "title": "L2EW ENDCAP N", "titleFontSize": 24, "titleAngle": 270, "titleAlign": "right", "titleBaseline": "alphabetic", "titleX": -164, "titleY": 50}}
      }
    },
    {
      "data": {"name": "aCircles"},
      "mark": {"type": "point", "filled": false, "stroke": "#ff2a12", "strokeWidth": 4, "opacity": 1, "size": 3600, "clip": false,
        "shape": "M-1,0C-1,-0.37,-0.552,-0.67,0,-0.67C0.552,-0.67,1,-0.37,1,0C1,0.37,0.552,0.67,0,0.67C-0.552,0.67,-1,0.37,-1,0Z"},
      "encoding": {
        "x": {"field": "x", "type": "quantitative", "scale": {"domain": [0, 1011], "nice": false, "zero": false}, "axis": null},
        "y": {"field": "y", "type": "quantitative", "scale": {"domain": [0, 25.71], "nice": false, "zero": false}, "axis": null}
      }
    },
    {
      "data": {"name": "bCircle"},
      "mark": {"type": "point", "filled": false, "stroke": "#1d6b2c", "strokeWidth": 4, "opacity": 1, "size": 16900, "clip": false,
        "shape": "M-1,0C-1,-0.53,-0.552,-0.96,0,-0.96C0.552,-0.96,1,-0.53,1,0C1,0.53,0.552,0.96,0,0.96C-0.552,0.96,-1,0.53,-1,0Z"},
      "encoding": {
        "x": {"field": "x", "type": "quantitative", "scale": {"domain": [0, 1011], "nice": false, "zero": false}, "axis": null},
        "y": {"field": "y", "type": "quantitative", "scale": {"domain": [0, 25.71], "nice": false, "zero": false}, "axis": null}
      }
    },
    {
      "data": {"name": "cCircle"},
      "mark": {"type": "point", "filled": false, "stroke": "#1d6b2c", "strokeWidth": 4, "opacity": 1, "size": 10527, "clip": false,
        "shape": "M-1,0C-1,-0.475,-0.552,-0.86,0,-0.86C0.552,-0.86,1,-0.475,1,0C1,0.475,0.552,0.86,0,0.86C-0.552,0.86,-1,0.475,-1,0Z"},
      "encoding": {
        "x": {"field": "x", "type": "quantitative", "scale": {"domain": [0, 1011], "nice": false, "zero": false}, "axis": null},
        "y": {"field": "y", "type": "quantitative", "scale": {"domain": [0, 25.71], "nice": false, "zero": false}, "axis": null}
      }
    },
    {
      "data": {"name": "aLabels"},
      "mark": {"type": "text", "color": "#ff44ff", "fontSize": 53, "fontWeight": "bold", "align": "center", "baseline": "alphabetic", "clip": false},
      "encoding": {
        "x": {"field": "x", "type": "quantitative", "scale": {"domain": [0, 1011], "nice": false, "zero": false},
          "axis": {"orient": "bottom", "values": [50, 100, 150, 250, 300, 350, 450, 500, 550, 650, 700, 750, 850, 900, 950], "tickSize": -9, "tickWidth": 2, "labels": false, "grid": false, "domain": false, "title": null}},
        "y": {"field": "y", "type": "quantitative", "scale": {"domain": [0, 25.71], "nice": false, "zero": false},
          "axis": {"orient": "left", "values": [1, 2, 3, 4, 6, 7, 8, 9, 11, 12, 13, 14, 16, 17, 18, 19, 21, 22, 23, 24], "tickSize": -25, "tickWidth": 2, "labels": false, "grid": false, "domain": false, "title": "towers", "titleFontSize": 12, "titleAngle": 270, "titleAlign": "right", "titleBaseline": "alphabetic", "titleX": -157, "titleY": 9}},
        "text": {"field": "t"}
      }
    },
    {
      "data": {"name": "bcLabels"},
      "mark": {"type": "text", "color": "#20a832", "fontSize": 52, "fontWeight": "bold", "align": "left", "baseline": "alphabetic", "clip": false},
      "encoding": {
        "x": {"field": "x", "type": "quantitative", "scale": {"domain": [0, 1011], "nice": false, "zero": false}, "axis": null},
        "y": {"field": "y", "type": "quantitative", "scale": {"domain": [0, 25.71], "nice": false, "zero": false}, "axis": null},
        "text": {"field": "t"}
      }
    }
  ]
}
